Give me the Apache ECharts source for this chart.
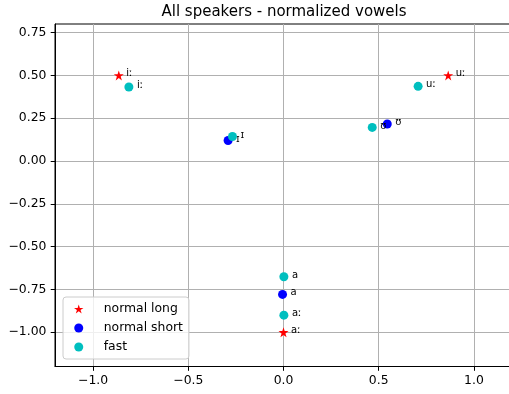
<!DOCTYPE html>
<html>
<head>
<meta charset="utf-8">
<script src="https://cdn.jsdelivr.net/npm/echarts@6/dist/echarts.min.js"></script>
<style>
html,body{margin:0;padding:0;background:#fff;}
#chart{width:509px;height:394px;}
</style>
</head>
<body>
<div id="chart"></div>
<script>
// ---- data ----
const longLabels = ['iː', 'uː', 'aː'];
const longX = [-0.865, 0.865, 0.0];
const longY = [0.50, 0.50, -1.0];

const shortLabels = ['ɪ', 'ʊ', 'a'];
const shortX = [-0.291, 0.545, -0.005];
const shortY = [0.120, 0.216, -0.779];

const fastLabels = ['iː', 'ɪ', 'ʊ', 'uː', 'a', 'aː'];
const fastX = [-0.812, -0.268, 0.466, 0.707, 0.002, 0.002];
const fastY = [0.432, 0.143, 0.196, 0.436, -0.676, -0.900];

const xTicks = [-1.0, -0.5, 0.0, 0.5, 1.0];
const yTicks = [-1.0, -0.75, -0.5, -0.25, 0.0, 0.25, 0.5, 0.75];

const seriesNames = ['normal long', 'normal short', 'fast'];
const titleText = 'All speakers - normalized vowels';

// ---- build ----
const FONT = 'DejaVu Sans';
const STAR = 'path://M50 0 L61.17 34.63 L97.55 34.55 L68.07 55.87 L79.39 90.45 L50 69 L20.61 90.45 L31.93 55.87 L2.45 34.55 L38.83 34.63 Z';
function pts(xs, ys, ls) { return xs.map((x, i) => [x, ys[i], ls[i]]); }
function fmt(v, d) { const s = Math.abs(v).toFixed(d); return (v < 0 ? '\u2212' : '') + s; }

const labelCfg = (dist) => ({
  show: true, position: 'right', distance: dist, offset: [0, -1.5],
  formatter: p => p.data[2], fontFamily: FONT, fontSize: 10, color: '#000'
});

const gridLines = {
  silent: true, symbol: 'none', animation: false, z: 0,
  lineStyle: { color: '#b0b0b0', width: 1, type: 'solid', opacity: 1 },
  label: { show: false },
  emphasis: { disabled: true },
  data: xTicks.map(v => ({ xAxis: v })).concat(yTicks.map(v => ({ yAxis: v })))
};

const chart = echarts.init(document.getElementById('chart'), null, { renderer: 'canvas' });
chart.setOption({
  animation: false,
  backgroundColor: '#fff',
  textStyle: { fontFamily: FONT },
  graphic: [{
    type: 'text', x: 284, y: 12,
    style: { text: titleText, font: '15px "DejaVu Sans"', fill: '#000', align: 'center', verticalAlign: 'middle' }
  }],
  grid: { left: 55, top: 24, width: 457, bottom: 27.5, containLabel: false, outerBoundsMode: 'none',
          show: true, borderColor: '#000', borderWidth: 1, backgroundColor: 'transparent' },
  xAxis: {
    type: 'value', min: -1.2, max: 1.2,
    axisLine: { show: true, onZero: false, lineStyle: { color: '#000', width: 1 } },
    axisTick: { show: true, length: 4.3, customValues: xTicks, lineStyle: { color: '#000' } },
    axisLabel: { customValues: xTicks, margin: 8.6, fontSize: 12.4, color: '#000', fontFamily: FONT, formatter: v => fmt(v, 1), hideOverlap: false },
    splitLine: { show: false }
  },
  yAxis: {
    type: 'value', min: -1.2, max: 0.8,
    axisLine: { show: true, onZero: false, lineStyle: { color: '#000', width: 1 } },
    axisTick: { show: true, length: 4.3, customValues: yTicks, lineStyle: { color: '#000' } },
    axisLabel: { customValues: yTicks, margin: 8.6, fontSize: 12.4, color: '#000', fontFamily: FONT, formatter: v => fmt(v, 2) },
    splitLine: { show: false }
  },
  legend: {
    orient: 'vertical', left: 63, top: 297, z: 10,
    padding: [5, 6, 5, 11],
    itemWidth: 20, itemHeight: 9, itemGap: 5,
    backgroundColor: 'rgba(255,255,255,0.8)', borderColor: '#cccccc', borderWidth: 1, borderRadius: 3,
    textStyle: { fontFamily: FONT, fontSize: 12.4, color: '#000', lineHeight: 14, padding: [0, 0, 0, 10] },
    data: [
      { name: seriesNames[0], icon: STAR },
      { name: seriesNames[1], icon: 'circle' },
      { name: seriesNames[2], icon: 'circle' }
    ]
  },
  series: [
    { type: 'line', data: [], markLine: gridLines, silent: true, z: 0 },
    { name: seriesNames[0], type: 'scatter', symbol: STAR, symbolSize: 10, itemStyle: { color: '#ff0000', opacity: 1 }, data: pts(longX, longY, longLabels), label: labelCfg(2.5), z: 3 },
    { name: seriesNames[1], type: 'scatter', symbol: 'circle', symbolSize: 9, itemStyle: { color: '#0000ff', opacity: 1 }, data: pts(shortX, shortY, shortLabels), label: labelCfg(3.5), z: 3 },
    { name: seriesNames[2], type: 'scatter', symbol: 'circle', symbolSize: 9, itemStyle: { color: '#00bfbf', opacity: 1 }, data: pts(fastX, fastY, fastLabels), label: labelCfg(3.5), z: 4 }
  ]
});
</script>
</body>
</html>
